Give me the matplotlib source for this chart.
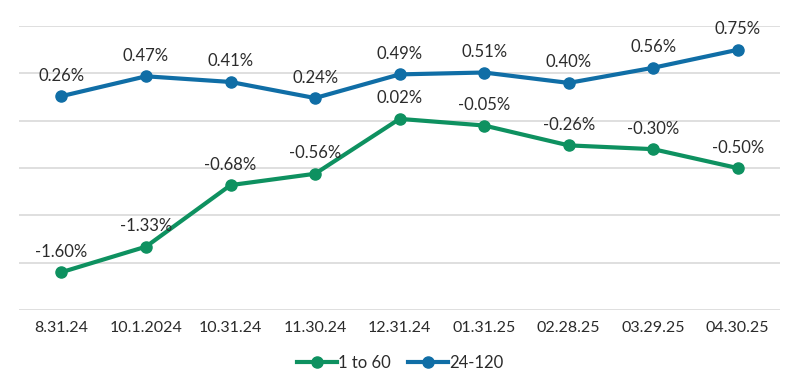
import matplotlib
matplotlib.use("Agg")
import matplotlib.pyplot as plt
import numpy as np

plt.rcParams["font.family"] = ["Lato", "DejaVu Sans"]

# data
dates = ["8.31.24", "10.1.2024", "10.31.24", "11.30.24", "12.31.24",
         "01.31.25", "02.28.25", "03.29.25", "04.30.25"]
short_vals = [-1.60, -1.33, -0.68, -0.56, 0.02, -0.05, -0.26, -0.30, -0.50]
long_vals = [0.26, 0.47, 0.41, 0.24, 0.49, 0.51, 0.40, 0.56, 0.75]

GREEN = "#0E9160"
BLUE = "#106EA6"
TEXT = "#2B2B2B"

fig = plt.figure(figsize=(8, 3.9), dpi=100)
ax = fig.add_axes([0.024, 0.205, 0.951, 0.728])

x = np.arange(len(dates))
ax.plot(x, short_vals, color=GREEN, lw=3, marker="o", ms=8, label="1 to 60", zorder=3)
ax.plot(x, long_vals, color=BLUE, lw=3, marker="o", ms=8, label="24-120", zorder=3)

# value labels above each point
for vals in (short_vals, long_vals):
    for xi, v in zip(x, vals):
        ax.annotate(f"{v:.2f}%", (xi, v), xytext=(0, 9), textcoords="offset points",
                    ha="center", va="bottom", fontsize=12, color=TEXT)

ax.set_xlim(-0.5, len(dates) - 0.5)
ax.set_ylim(-2.0, 1.0)
ax.set_yticks(np.arange(-2.0, 1.01, 0.5))
ax.set_yticklabels([])
ax.tick_params(axis="y", length=0)
ax.set_xticks(x)
ax.set_xticklabels(dates, fontsize=11.5, color=TEXT)
ax.tick_params(axis="x", length=0, pad=8)
ax.grid(axis="y", color="#D9D9D9", lw=1.2)
ax.set_axisbelow(True)
for s in ax.spines.values():
    s.set_visible(False)

leg = fig.legend(loc="center", bbox_to_anchor=(0.5, 0.07), ncol=2, frameon=False,
                 fontsize=12, handlelength=2.4, handletextpad=0.1, columnspacing=1.0)
for t in leg.get_texts():
    t.set_color(TEXT)

fig.savefig("out.png", dpi=100)
